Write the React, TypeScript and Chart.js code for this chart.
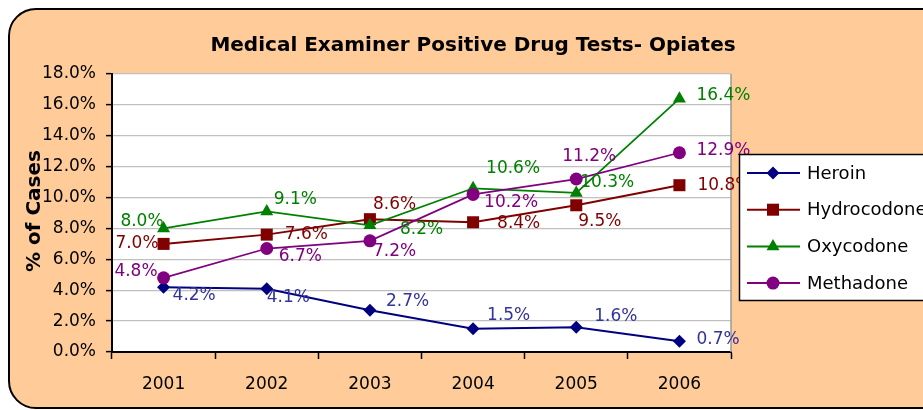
import React, { useEffect, useRef } from 'react';
import { Chart, registerables } from 'chart.js';

Chart.register(...registerables);

// ---------- data ----------
const years = ['2001', '2002', '2003', '2004', '2005', '2006'];
const heroin = [4.2, 4.1, 2.7, 1.5, 1.6, 0.7];
const hydrocodone = [7.0, 7.6, 8.6, 8.4, 9.5, 10.8];
const oxycodone = [8.0, 9.1, 8.2, 10.6, 10.3, 16.4];
const methadone = [4.8, 6.7, 7.2, 10.2, 11.2, 12.9];
const seriesNames = ['Heroin', 'Hydrocodone', 'Oxycodone', 'Methadone'];
const yTickValues = [0, 2, 4, 6, 8, 10, 12, 14, 16, 18];
const titleText = 'Medical Examiner Positive Drug Tests- Opiates';
const yAxisTitle = '% of Cases';

// ---------- styles ----------
const FONT = '"DejaVu Sans", Verdana, sans-serif';
const lineColors = ['#000080', '#800000', '#008000', '#800080'];
const labelColors = ['#333399', '#800000', '#008000', '#800080'];
const markerStyles = ['rectRot', 'rect', 'triangle', 'circle'];
const markerRadii = [6.5, 8.5, 7.5, 6.5];
const lineWidths = [2, 2, 1.75, 1.75];
// label offsets from the point: [dx, dy, align]
type Off = [number, number, 'left' | 'right'];
const labelOffsets: Off[][] = [
  [[9, 8, 'left'], [0, 9, 'left'], [16, -9, 'left'], [14, -13, 'left'], [18, -11, 'left'], [17, -2, 'left']],
  [[-5, 0, 'right'], [18, 0, 'left'], [3, -15, 'left'], [24, 1, 'left'], [2, 16, 'left'], [18, 0, 'left']],
  [[0, -7, 'right'], [7, -12, 'left'], [30, 4, 'left'], [13, -20, 'left'], [4, -10, 'left'], [17, -3, 'left']],
  [[-6, -6, 'right'], [12, 8, 'left'], [3, 11, 'left'], [11, 8, 'left'], [-14, -22, 'left'], [17, -2, 'left']],
];

function drawMarker(ctx: CanvasRenderingContext2D, style: string, x: number, y: number, r: number, color: string) {
  ctx.save();
  ctx.fillStyle = color;
  ctx.beginPath();
  if (style === 'rectRot') {
    ctx.moveTo(x, y - r);
    ctx.lineTo(x + r, y);
    ctx.lineTo(x, y + r);
    ctx.lineTo(x - r, y);
    ctx.closePath();
  } else if (style === 'rect') {
    const s = r * Math.SQRT1_2;
    ctx.rect(x - s, y - s, 2 * s, 2 * s);
  } else if (style === 'triangle') {
    const h = r * 1.5;
    const w = r * Math.sqrt(3);
    ctx.moveTo(x, y - r);
    ctx.lineTo(x + w / 2, y - r + h);
    ctx.lineTo(x - w / 2, y - r + h);
    ctx.closePath();
  } else {
    ctx.arc(x, y, r, 0, Math.PI * 2);
  }
  ctx.fill();
  ctx.restore();
}

const decoPlugin = {
  id: 'deco',
  beforeDraw(chart: any) {
    const ctx: CanvasRenderingContext2D = chart.ctx;
    const { left, top, right, bottom } = chart.chartArea;
    ctx.save();
    // outer rounded box
    const x0 = 9, y0 = 9, x1 = 960, y1 = 408, r = 27;
    ctx.beginPath();
    ctx.moveTo(x0 + r, y0);
    ctx.lineTo(x1 - r, y0);
    ctx.arcTo(x1, y0, x1, y0 + r, r);
    ctx.lineTo(x1, y1 - r);
    ctx.arcTo(x1, y1, x1 - r, y1, r);
    ctx.lineTo(x0 + r, y1);
    ctx.arcTo(x0, y1, x0, y1 - r, r);
    ctx.lineTo(x0, y0 + r);
    ctx.arcTo(x0, y0, x0 + r, y0, r);
    ctx.closePath();
    ctx.fillStyle = '#FFCC99';
    ctx.fill();
    ctx.strokeStyle = '#000';
    ctx.lineWidth = 2;
    ctx.stroke();
    // plot area
    ctx.fillStyle = '#ffffff';
    ctx.fillRect(left, top, right - left, bottom - top);
    // title
    ctx.fillStyle = '#000';
    ctx.font = `bold 20px ${FONT}`;
    ctx.textAlign = 'center';
    ctx.textBaseline = 'alphabetic';
    ctx.fillText(titleText, 473, 51);
    // y axis title
    ctx.translate(40, 211);
    ctx.rotate(-Math.PI / 2);
    ctx.fillText(yAxisTitle, 0, 0);
    ctx.restore();
  },
  beforeDatasetsDraw(chart: any) {
    const ctx: CanvasRenderingContext2D = chart.ctx;
    const { top, right, bottom } = chart.chartArea;
    ctx.save();
    ctx.strokeStyle = '#9a9a9a';
    ctx.lineWidth = 1.5;
    ctx.beginPath();
    ctx.moveTo(right, top);
    ctx.lineTo(right, bottom);
    ctx.stroke();
    ctx.restore();
  },
  afterDatasetsDraw(chart: any) {
    const ctx: CanvasRenderingContext2D = chart.ctx;
    ctx.save();
    ctx.font = `17px ${FONT}`;
    ctx.textBaseline = 'middle';
    chart.data.datasets.forEach((ds: any, i: number) => {
      const meta = chart.getDatasetMeta(i);
      meta.data.forEach((pt: any, j: number) => {
        const [dx, dy, align] = labelOffsets[i][j];
        ctx.fillStyle = labelColors[i];
        ctx.textAlign = align;
        ctx.fillText(Number(ds.data[j]).toFixed(1) + '%', pt.x + dx, pt.y + dy);
      });
    });
    ctx.restore();
  },
  afterDraw(chart: any) {
    const ctx: CanvasRenderingContext2D = chart.ctx;
    ctx.save();
    const bx = 739, by = 154, bw = 220, bh = 147;
    ctx.fillStyle = '#fff';
    ctx.fillRect(bx, by, bw, bh);
    ctx.strokeStyle = '#000';
    ctx.lineWidth = 1.5;
    ctx.strokeRect(bx + 0.5, by + 0.5, bw, bh - 1);
    ctx.font = `18px ${FONT}`;
    ctx.textAlign = 'left';
    ctx.textBaseline = 'middle';
    chart.data.datasets.forEach((ds: any, i: number) => {
      const y = 173 + i * 36.7;
      ctx.strokeStyle = lineColors[i];
      ctx.lineWidth = 2;
      ctx.beginPath();
      ctx.moveTo(747, y);
      ctx.lineTo(800, y);
      ctx.stroke();
      drawMarker(ctx, markerStyles[i], 773, y, markerRadii[i], lineColors[i]);
      ctx.fillStyle = '#000';
      ctx.fillText(ds.label, 807, y + 1);
    });
    ctx.restore();
  },
};

export default function App() {
  const canvasRef = useRef<HTMLCanvasElement | null>(null);

  useEffect(() => {
    if (!canvasRef.current) return;
    const seriesData = [heroin, hydrocodone, oxycodone, methadone];
    const chart = new Chart(canvasRef.current, {
      type: 'line',
      data: {
        labels: years,
        datasets: seriesData.map((d, i) => ({
          label: seriesNames[i],
          data: d,
          borderColor: lineColors[i],
          backgroundColor: lineColors[i],
          pointBackgroundColor: lineColors[i],
          pointBorderColor: lineColors[i],
          pointBorderWidth: 0,
          pointStyle: markerStyles[i] as any,
          pointRadius: markerRadii[i],
          borderWidth: lineWidths[i],
          tension: 0,
          fill: false,
          order: 3 - i,
          clip: false as any,
        })),
      },
      options: {
        responsive: false,
        animation: false,
        devicePixelRatio: 1,
        layout: { padding: { top: 74, right: 192, left: 0, bottom: 0 } },
        plugins: {
          legend: { display: false },
          title: { display: false },
          tooltip: { enabled: false },
        },
        scales: {
          x: {
            type: 'category',
            offset: true,
            grid: {
              offset: true,
              drawOnChartArea: false,
              tickLength: 7,
              tickColor: '#000',
              tickWidth: 1.5,
            },
            border: { color: '#000', width: 2 },
            ticks: {
              color: '#000',
              font: { family: FONT, size: 17 },
              padding: 15,
              maxRotation: 0,
              autoSkip: false,
            },
            afterFit: (s: any) => {
              s.height = 58;
            },
          },
          y: {
            min: 0,
            max: 18,
            grid: {
              color: '#c0c0c0',
              lineWidth: 1.25,
              tickColor: '#000',
              tickLength: 6,
              tickWidth: 1.5,
            },
            border: { color: '#000', width: 2 },
            ticks: {
              color: '#000',
              font: { family: FONT, size: 17 },
              padding: 10,
              callback: (v: any) => Number(v).toFixed(1) + '%',
            },
            afterBuildTicks: (s: any) => {
              s.ticks = yTickValues.map((v) => ({ value: v }));
            },
            afterFit: (s: any) => {
              s.width = 112;
            },
          },
        },
      },
      plugins: [decoPlugin],
    });
    return () => chart.destroy();
  }, []);

  return (
    <div style={{ position: 'fixed', left: 0, top: 0, width: 923, height: 410 }}>
      <canvas ref={canvasRef} width={923} height={410} style={{ display: 'block', width: 923, height: 410 }} />
    </div>
  );
}
